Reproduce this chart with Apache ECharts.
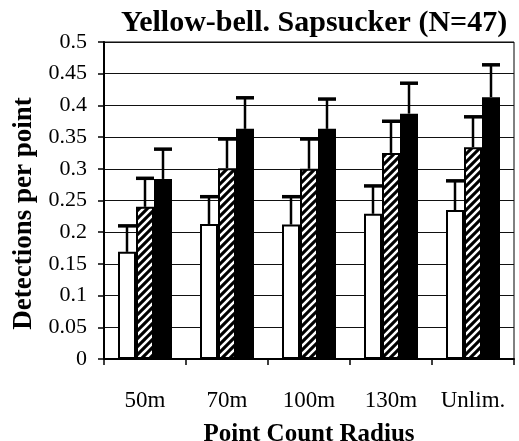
<!DOCTYPE html>
<html>
<head>
<meta charset="utf-8">
<style>
  html, body { margin: 0; padding: 0; background: #fff; }
  #chart { width: 519px; height: 441px; }
</style>
<script src="https://cdn.jsdelivr.net/npm/echarts@6/dist/echarts.min.js"></script>
</head>
<body>
<div id="chart"></div>
<script>
// Point count radius categories
var categories = ['50m', '70m', '100m', '130m', 'Unlim.'];

// Mean detections per point for the three survey variants (open, hatched, solid bars)
var openMeans    = [0.169, 0.213, 0.212, 0.229, 0.235];
var hatchedMeans = [0.240, 0.301, 0.300, 0.325, 0.334];
var solidMeans   = [0.284, 0.363, 0.363, 0.387, 0.413];

// Upper ends of the error bars
var openUpper    = [0.210, 0.256, 0.256, 0.273, 0.281];
var hatchedUpper = [0.285, 0.347, 0.347, 0.375, 0.382];
var solidUpper   = [0.331, 0.412, 0.410, 0.435, 0.464];

// Y axis ticks
var yMin = 0, yMax = 0.5, yStep = 0.05;

var FONT = '"Liberation Serif", "Times New Roman", serif';
var BAR_W = 18;

// Diagonal white-on-black hatch tile
function makeHatch() {
  var n = 8;
  var c = document.createElement('canvas');
  c.width = n; c.height = n;
  var g = c.getContext('2d');
  g.fillStyle = '#000';
  g.fillRect(0, 0, n, n);
  g.strokeStyle = '#fff';
  g.lineWidth = 2.6;
  g.beginPath();
  g.moveTo(-1, 1); g.lineTo(1, -1);
  g.moveTo(0, n); g.lineTo(n, 0);
  g.moveTo(n - 1, n + 1); g.lineTo(n + 1, n - 1);
  g.stroke();
  return c;
}

var chart = echarts.init(document.getElementById('chart'), null, { renderer: 'canvas' });

// Upward-only error bars, one per bar slot
function errorSeries(means, uppers, slot) {
  var data = means.map(function (m, i) { return [i, m, uppers[i]]; });
  return {
    type: 'custom',
    z: 5,
    silent: true,
    data: data,
    encode: { x: 0, y: [1, 2] },
    renderItem: function (params, api) {
      var i = api.value(0);
      var lo = api.coord([i, api.value(1)]);
      var hi = api.coord([i, api.value(2)]);
      var x = lo[0] + (slot - 1) * BAR_W;
      var half = BAR_W / 2;
      return {
        type: 'group',
        children: [
          { type: 'line', shape: { x1: x, y1: lo[1], x2: x, y2: hi[1] },
            style: { stroke: '#000', lineWidth: 2.5 } },
          { type: 'line', shape: { x1: x - half, y1: hi[1], x2: x + half, y2: hi[1] },
            style: { stroke: '#000', lineWidth: 3.5 } }
        ]
      };
    }
  };
}

var option = {
  animation: false,
  backgroundColor: '#fff',
  title: {
    text: 'Yellow-bell. Sapsucker (N=47)',
    left: 309,
    textAlign: 'center',
    top: 3,
    textStyle: { fontFamily: FONT, fontWeight: 'bold', fontSize: 30, color: '#000' }
  },
  grid: {
    left: 104, right: 5, top: 42, bottom: 82,
    outerBoundsMode: 'none',
    containLabel: false,
    show: true, borderColor: '#000', borderWidth: 1
  },
  xAxis: {
    type: 'category',
    data: categories,
    name: 'Point Count Radius',
    nameLocation: 'middle',
    nameGap: 63,
    nameTextStyle: { fontFamily: FONT, fontWeight: 'bold', fontSize: 25, color: '#000' },
    axisLine: { lineStyle: { color: '#000', width: 2 } },
    axisTick: { show: true, length: 6, lineStyle: { color: '#000', width: 1.5 } },
    axisLabel: { interval: 0, fontFamily: FONT, fontSize: 23, color: '#000', margin: 30 }
  },
  yAxis: {
    type: 'value',
    min: yMin, max: yMax, interval: yStep,
    name: 'Detections per point',
    nameLocation: 'middle',
    nameGap: 66,
    nameTextStyle: { fontFamily: FONT, fontWeight: 'bold', fontSize: 27, color: '#000', padding: [0, 26, 0, 0] },
    axisLine: { show: true, lineStyle: { color: '#000', width: 2 } },
    axisTick: { show: true, length: 6, lineStyle: { color: '#000', width: 1.5 } },
    axisLabel: { fontFamily: FONT, fontSize: 22, color: '#000', margin: 17 },
    splitLine: { show: true, lineStyle: { color: '#111', width: 1.2 } }
  },
  series: [
    { type: 'bar', data: openMeans, barWidth: BAR_W, barGap: '0%', z: 3,
      itemStyle: { color: '#fff', borderColor: '#000', borderWidth: 2 } },
    { type: 'bar', data: hatchedMeans, barWidth: BAR_W, barGap: '0%', z: 3,
      itemStyle: { color: { image: makeHatch(), repeat: 'repeat' }, borderColor: '#000', borderWidth: 2 } },
    { type: 'bar', data: solidMeans, barWidth: BAR_W, barGap: '0%', z: 3,
      itemStyle: { color: '#000', borderColor: '#000', borderWidth: 2 } },
    errorSeries(openMeans, openUpper, 0),
    errorSeries(hatchedMeans, hatchedUpper, 1),
    errorSeries(solidMeans, solidUpper, 2)
  ]
};

chart.setOption(option);
</script>
</body>
</html>
